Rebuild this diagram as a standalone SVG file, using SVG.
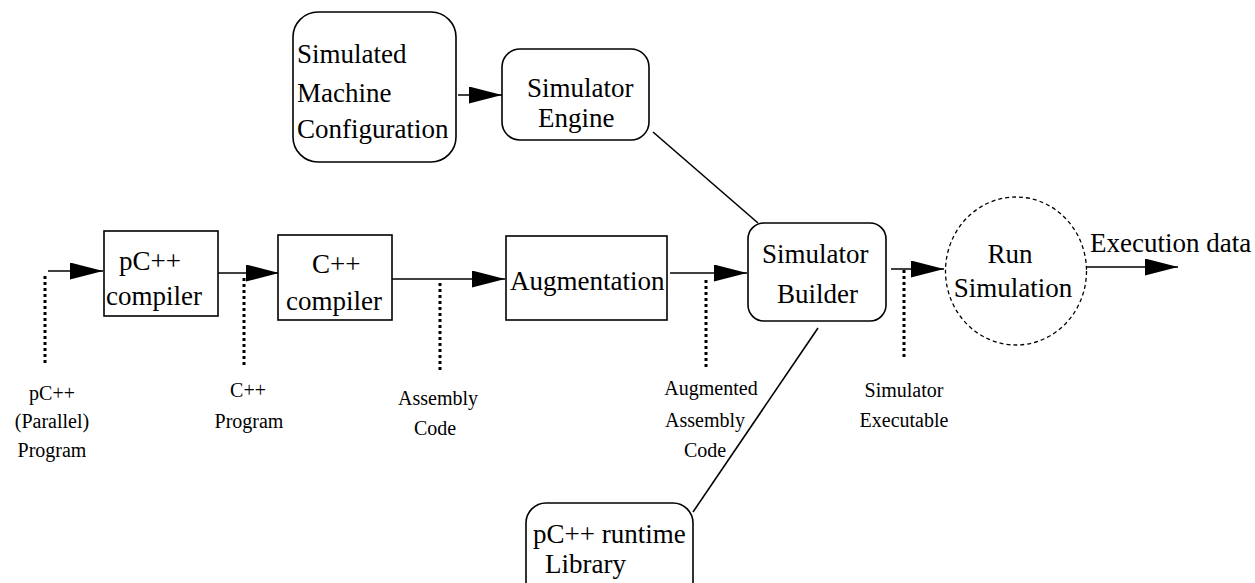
<svg xmlns="http://www.w3.org/2000/svg" width="1255" height="583" viewBox="0 0 1255 583">
<style>
.box{fill:#fff;stroke:#000;stroke-width:1.6}
.t{font-family:"Liberation Serif","Times New Roman",serif;font-size:27px;fill:#000}
.l{font-family:"Liberation Serif","Times New Roman",serif;font-size:20px;fill:#000;text-anchor:middle}
.c{stroke:#000;stroke-width:1.6;fill:none}
.d{stroke:#000;stroke-width:3;stroke-dasharray:3 3;fill:none}
</style>
<defs>
<marker id="ah" markerUnits="userSpaceOnUse" markerWidth="34" markerHeight="18" refX="33" refY="8.5" orient="auto">
<path d="M0,0 L33,8.5 L0,17 Z" fill="#000"/>
</marker>
</defs>
<rect width="1255" height="583" fill="#fff"/>
<g id="connectors">
<line class="c" x1="458" y1="95" x2="502" y2="95" marker-end="url(#ah)"/>
<line class="c" x1="48" y1="271" x2="103" y2="271" marker-end="url(#ah)"/>
<line class="c" x1="218" y1="273" x2="279" y2="273" marker-end="url(#ah)"/>
<line class="c" x1="392" y1="279" x2="505" y2="279" marker-end="url(#ah)"/>
<line class="c" x1="670" y1="273" x2="747" y2="273" marker-end="url(#ah)"/>
<line class="c" x1="891" y1="269" x2="944" y2="269" marker-end="url(#ah)"/>
<line class="c" x1="1087" y1="267" x2="1178" y2="267" marker-end="url(#ah)"/>
<line class="c" x1="653" y1="132" x2="758" y2="223"/>
<line class="c" x1="818" y1="328" x2="693" y2="512"/>
<line class="d" x1="45" y1="276" x2="45" y2="364"/>
<line class="d" x1="244" y1="278" x2="244" y2="366"/>
<line class="d" x1="440" y1="283" x2="440" y2="370"/>
<line class="d" x1="706" y1="280" x2="706" y2="367"/>
<line class="d" x1="904" y1="270" x2="904" y2="359"/>
</g>
<g id="config">
<rect class="box" x="293" y="12" width="163" height="150" rx="25"/>
<text class="t" x="297" y="63">Simulated</text>
<text class="t" x="297" y="102">Machine</text>
<text class="t" x="297" y="138">Configuration</text>
</g>
<g id="engine">
<rect class="box" x="502" y="49" width="147" height="91" rx="18"/>
<text class="t" x="527" y="97">Simulator</text>
<text class="t" x="538" y="127">Engine</text>
</g>
<g id="pcc">
<rect class="box" x="104" y="231" width="114" height="85"/>
<text class="t" x="119" y="270">pC++</text>
<text class="t" x="106" y="305">compiler</text>
</g>
<g id="cc">
<rect class="box" x="278" y="235" width="114" height="85"/>
<text class="t" x="312" y="273">C++</text>
<text class="t" x="286" y="310">compiler</text>
</g>
<g id="aug">
<rect class="box" x="506" y="236" width="161" height="84"/>
<text class="t" x="510" y="290">Augmentation</text>
</g>
<g id="builder">
<rect class="box" x="748" y="223" width="138" height="98" rx="16"/>
<text class="t" x="762" y="263">Simulator</text>
<text class="t" x="777" y="303">Builder</text>
</g>
<g id="run">
<ellipse cx="1016" cy="271" rx="70.5" ry="74" fill="#fff" stroke="#000" stroke-width="1.3" stroke-dasharray="4 3"/>
<text class="t" x="1010" y="263" text-anchor="middle">Run</text>
<text class="t" x="1013" y="297" text-anchor="middle">Simulation</text>
</g>
<g id="exec">
<text class="t" x="1090" y="252">Execution data</text>
</g>
<g id="lib">
<rect class="box" x="526" y="503" width="167" height="100" rx="20"/>
<text class="t" x="533" y="543">pC++ runtime</text>
<text class="t" x="545" y="573">Library</text>
</g>
<g id="labels">
<text class="l" x="52" y="400">pC++</text>
<text class="l" x="52" y="428">(Parallel)</text>
<text class="l" x="52" y="457">Program</text>
<text class="l" x="248" y="397">C++</text>
<text class="l" x="249" y="428">Program</text>
<text class="l" x="438" y="405">Assembly</text>
<text class="l" x="435" y="435">Code</text>
<text class="l" x="711" y="395">Augmented</text>
<text class="l" x="705" y="427">Assembly</text>
<text class="l" x="705" y="457">Code</text>
<text class="l" x="904" y="397">Simulator</text>
<text class="l" x="904" y="427">Executable</text>
</g>
</svg>
